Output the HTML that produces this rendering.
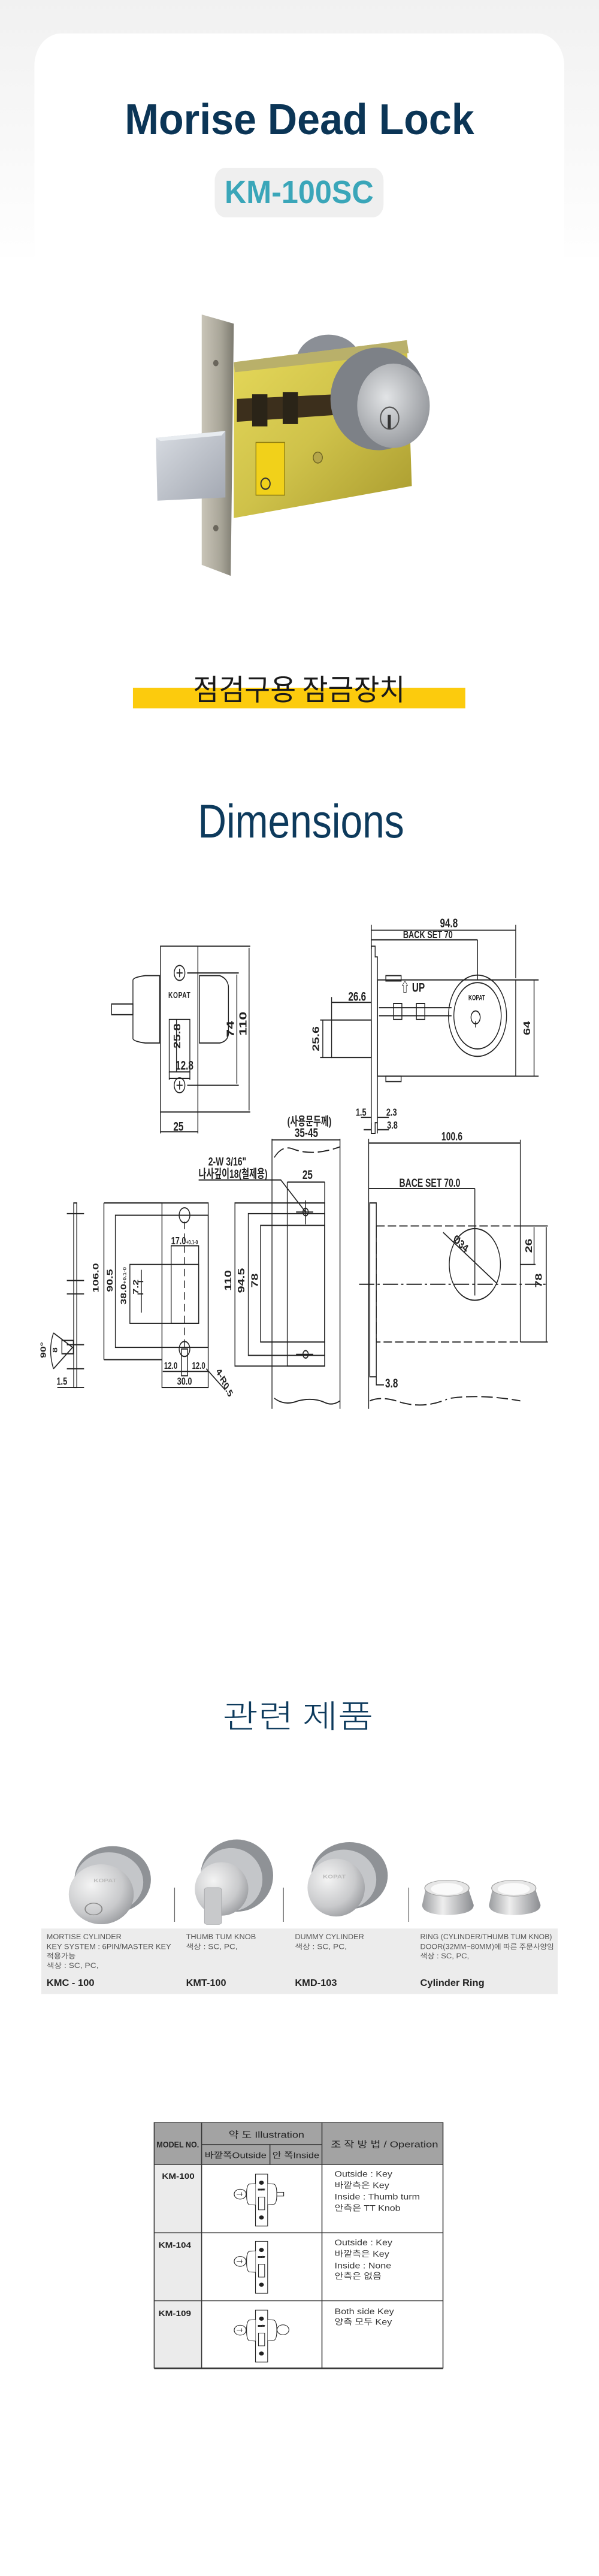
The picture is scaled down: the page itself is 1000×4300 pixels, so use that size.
<!DOCTYPE html>
<html><head><meta charset="utf-8">
<style>
html,body{margin:0;padding:0;background:#fff;}
body{width:1000px;height:4300px;position:relative;overflow:hidden;font-family:"Liberation Sans","Noto Sans CJK KR",sans-serif;}
svg{position:absolute;display:block;}
</style></head><body>

<!-- TOP SECTION -->
<svg style="left:0;top:0" width="1000" height="1200" viewBox="0 0 1568 1568" preserveAspectRatio="none">
<defs>
<linearGradient id="bg" x1="0" y1="0" x2="0" y2="1"><stop offset="0" stop-color="#f1f1f1"/><stop offset="1" stop-color="#ffffff"/></linearGradient>
<linearGradient id="plate" x1="0" y1="0" x2="1" y2="0"><stop offset="0" stop-color="#c9c5b8"/><stop offset="0.6" stop-color="#a8a598"/><stop offset="1" stop-color="#7d7a70"/></linearGradient>
<linearGradient id="body" x1="0" y1="0" x2="1" y2="1"><stop offset="0" stop-color="#e6d95a"/><stop offset="0.5" stop-color="#cfc24a"/><stop offset="1" stop-color="#a89a2e"/></linearGradient>
<linearGradient id="bolt" x1="0" y1="0" x2="1" y2="1"><stop offset="0" stop-color="#d8dce2"/><stop offset="1" stop-color="#a3a8b2"/></linearGradient>
<radialGradient id="cyl" cx="0.4" cy="0.4" r="0.7"><stop offset="0" stop-color="#e2e4e6"/><stop offset="1" stop-color="#8e9196"/></radialGradient>
</defs>
<rect x="0" y="0" width="1568" height="600" fill="url(#bg)"/>
<rect x="90" y="73" width="1387" height="560" rx="70" fill="#fff"/>
<rect x="0" y="560" width="1568" height="80" fill="#fff"/>
<text x="784" y="293" text-anchor="middle" font-size="94" font-weight="bold" fill="#0b3556" textLength="915" lengthAdjust="spacingAndGlyphs">Morise Dead Lock</text>
<rect x="562" y="366" width="442" height="108" rx="28" fill="#efefef"/>
<text x="783" y="443" text-anchor="middle" font-size="70" font-weight="bold" fill="#3aa6b9" textLength="390" lengthAdjust="spacingAndGlyphs">KM-100SC</text>

<ellipse cx="860" cy="790" rx="85" ry="60" fill="#8b8f96"/>
<polygon points="612,790 1065,742 1078,1060 612,1130" fill="url(#body)"/>
<polygon points="612,790 1065,742 1070,770 615,812" fill="#b9b06a"/>
<polygon points="528,686 612,706 604,1256 528,1232" fill="url(#plate)"/>
<circle cx="565" cy="792" r="7" fill="#6a665c"/><circle cx="565" cy="1152" r="7" fill="#6a665c"/>
<polygon points="620,870 880,860 880,905 620,920" fill="#3c2f1c"/>
<rect x="660" y="860" width="40" height="70" fill="#2a2418"/><rect x="740" y="855" width="40" height="70" fill="#2a2418"/>
<polygon points="408,955 590,940 590,1085 412,1092" fill="url(#bolt)"/>
<polygon points="408,955 590,940 580,950 420,962" fill="#e8ecf0"/>
<rect x="670" y="965" width="75" height="115" fill="#f1d11a" stroke="#8a7a10" stroke-width="2"/>
<circle cx="695" cy="1055" r="12" fill="none" stroke="#333" stroke-width="3"/>
<circle cx="832" cy="998" r="12" fill="#b5a64a" stroke="#6a6020" stroke-width="2"/>
<ellipse cx="990" cy="870" rx="125" ry="112" fill="#7d8187"/>
<ellipse cx="1030" cy="885" rx="95" ry="92" fill="url(#cyl)"/>
<circle cx="1020" cy="912" r="24" fill="none" stroke="#555" stroke-width="3"/>
<rect x="1015" y="905" width="8" height="30" fill="#333"/>

<rect x="348" y="1500" width="870" height="45" fill="#fccb0d"/>
<text x="783" y="1527" text-anchor="middle" font-size="64" fill="#1a1a1a" font-family="Noto Sans CJK KR, sans-serif" textLength="555" lengthAdjust="spacingAndGlyphs">점검구용 잠금장치</text>
</svg>

<!-- DIMENSIONS -->
<svg style="left:0;top:1200" width="1000" height="1400" viewBox="0 0 1568 1568" preserveAspectRatio="none" font-family="Liberation Sans, Noto Sans CJK KR, sans-serif">
<text x="788" y="222" text-anchor="middle" font-size="88" fill="#0d3a5c" textLength="540" lengthAdjust="spacingAndGlyphs">Dimensions</text>
<g fill="none" stroke="#222" stroke-width="2.2">
<rect x="420" y="425" width="98" height="310"/>
<path d="M348 488 Q350 483 380 480 L418 480 L418 606 L380 606 Q350 603 348 598 Z"/>
<path d="M522 480 L575 480 Q595 485 598 500 L598 590 Q595 603 575 606 L522 606 Z"/>
<rect x="292" y="533" width="56" height="20"/>
<circle cx="470" cy="475" r="14"/><circle cx="470" cy="685" r="14"/>
<path d="M462 475h16M470 467v16M462 685h16M470 677v16"/>
<rect x="443" y="562" width="54" height="98"/>
<path d="M462 562v98M443 660v15M497 660v15M443 672h54"/>
<path d="M490 475h135M490 685h135M620 478v204M518 425h137M518 735h137M652 428v304"/>
<path d="M420 735v40M518 735v40M420 772h98"/>
<path d="M972 425h10v20h6v310h-6v20h-10z"/>
<rect x="988" y="488" width="362" height="180"/>
<circle cx="1250" cy="555" r="76"/><circle cx="1250" cy="555" r="62"/>
<circle cx="1245" cy="558" r="12"/><path d="M1245 565v12"/>
<path d="M992 540h190M992 555h190"/>
<rect x="1030" y="532" width="22" height="30"/><rect x="1090" y="532" width="22" height="30"/>
<rect x="1010" y="480" width="40" height="10"/><rect x="1010" y="668" width="40" height="10"/>
<rect x="868" y="563" width="104" height="70"/>
<path d="M972 385v45M1350 385v100M972 395h378M1250 413v75M972 413h278"/>
<path d="M868 520v43M868 530h104M838 563h30M838 633h30M845 563v70"/>
<path d="M1350 488h60M1350 668h60M1398 488v180"/>
<path d="M945 745h27M988 745h30M972 768h-20M988 768h30M972 755v20M988 755v20"/>
<rect x="193" y="905" width="8" height="345"/>
<path d="M175 925h45M175 1050h45M175 1075h45M175 1170h45M175 1215h45M150 1250h70"/>
<path d="M140 1148 L190 1175 L140 1215"/>
<path d="M140 1148 Q125 1180 140 1215"/>
<rect x="162" y="1162" width="30" height="25"/>
<path d="M272 905h152M272 1198h152M272 905v293"/>
<rect x="302" y="928" width="243" height="247"/>
<rect x="424" y="905" width="121" height="345"/>
<rect x="340" y="1020" width="180" height="110"/>
<rect x="448" y="985" width="72" height="145"/>
<path d="M370 1030v80M360 1052h15M360 1075h15"/>
<circle cx="483" cy="928" r="14"/><circle cx="483" cy="1178" r="14"/>
<rect x="475" y="1178" width="16" height="50"/>
<path d="M483 940v240" stroke-dasharray="14 8"/>
<path d="M426 1220h118M426 1250h118"/>
<path d="M540 1215 L590 1255"/>
<path d="M712 785v505M890 785v505M712 787h178"/>
<path d="M718 820 Q740 795 770 805 Q800 812 830 810 Q860 808 890 800" stroke-dasharray="30 10"/>
<path d="M718 1270 Q745 1285 780 1275 Q820 1268 850 1278 Q870 1285 890 1275"/>
<rect x="615" y="905" width="235" height="305"/>
<rect x="650" y="925" width="200" height="265"/>
<rect x="682" y="947" width="168" height="218"/>
<rect x="752" y="905" width="98" height="305"/>
<path d="M752 866h98M752 866v40M850 866v40"/>
<circle cx="800" cy="922" r="7"/><circle cx="800" cy="1188" r="7"/>
<path d="M775 922h45M775 1188h45M800 900v45"/>
<path d="M520 862h215 L800 922"/>
<path d="M965 785v505M1362 787v160M965 793h397M965 878h278M1243 878v200"/>
<path d="M968 905h17v325h-17z"/>
<path d="M985 948h377v217h-377M1362 948v217" stroke-dasharray="22 8"/>
<path d="M985 948v217" stroke-dasharray="22 8"/>
<circle cx="1243" cy="1020" r="67"/>
<path d="M1160 960 L1300 1055"/>
<path d="M940 1057h490" stroke-dasharray="40 8 6 8"/>
<path d="M1362 948h72M1362 1165h72M1398 950v70M1362 1020h40M1430 950v215"/>
<path d="M968 1275 Q1000 1265 1050 1278 Q1110 1290 1170 1272" stroke-dasharray="30 10"/>
<path d="M1180 1270 Q1260 1262 1362 1275" stroke-dasharray="30 10"/>
<path d="M985 1230v15h20"/>
</g>
<g fill="#222" font-size="24" font-weight="bold">
<text x="470" y="522" text-anchor="middle" font-size="16" letter-spacing="1">KOPAT</text>
<text x="1248" y="526" text-anchor="middle" font-size="13">KOPAT</text>
<text x="467" y="770" text-anchor="middle">25</text>
<text x="483" y="656" text-anchor="middle">12.8</text>
<text transform="translate(472,593) rotate(-90)" text-anchor="middle">25.8</text>
<text transform="translate(612,580) rotate(-90)" text-anchor="middle" font-size="28">74</text>
<text transform="translate(645,570) rotate(-90)" text-anchor="middle" font-size="28">110</text>
<text x="1175" y="390" text-anchor="middle">94.8</text>
<text x="1120" y="410" text-anchor="middle" font-size="20">BACK SET 70</text>
<text x="1080" y="510" text-anchor="middle">⇧ UP</text>
<text x="935" y="527" text-anchor="middle">26.6</text>
<text transform="translate(835,598) rotate(-90)" text-anchor="middle">25.6</text>
<text transform="translate(1388,578) rotate(-90)" text-anchor="middle">64</text>
<text x="945" y="742" text-anchor="middle" font-size="20">1.5</text>
<text x="1025" y="742" text-anchor="middle" font-size="20">2.3</text>
<text x="1027" y="766" text-anchor="middle" font-size="20">3.8</text>
<text x="810" y="760" text-anchor="middle" font-size="22">(사용문두께)</text>
<text x="802" y="782" text-anchor="middle">35-45</text>
<text x="595" y="835" text-anchor="middle" font-size="22">2-W 3/16"</text>
<text x="610" y="858" text-anchor="middle" font-size="22">나사깊이18(철제용)</text>
<text x="805" y="860" text-anchor="middle">25</text>
<text x="1183" y="788" text-anchor="middle" font-size="22">100.6</text>
<text x="1125" y="875" text-anchor="middle" font-size="22">BACE SET 70.0</text>
<text transform="translate(1185,975) rotate(35)" font-size="22">Ø34</text>
<text transform="translate(1392,985) rotate(-90)" text-anchor="middle">26</text>
<text transform="translate(1418,1050) rotate(-90)" text-anchor="middle">78</text>
<text x="1025" y="1250" text-anchor="middle">3.8</text>
<text x="483" y="982" text-anchor="middle" font-size="20">17.0<tspan font-size="11">+0.1-0</tspan></text>
<text transform="translate(258,1045) rotate(-90)" text-anchor="middle" font-size="22">106.0</text>
<text transform="translate(295,1050) rotate(-90)" text-anchor="middle" font-size="22">90.5</text>
<text transform="translate(330,1060) rotate(-90)" text-anchor="middle" font-size="20">38.0<tspan font-size="11">+0.1-0</tspan></text>
<text transform="translate(362,1062) rotate(-90)" text-anchor="middle" font-size="20">7.2</text>
<text x="447" y="1215" text-anchor="middle" font-size="18">12.0</text>
<text x="520" y="1215" text-anchor="middle" font-size="18">12.0</text>
<text x="483" y="1245" text-anchor="middle" font-size="20">30.0</text>
<text transform="translate(565,1220) rotate(55)" font-size="20">4-R0.5</text>
<text transform="translate(120,1180) rotate(-90)" text-anchor="middle" font-size="20">90°</text>
<text transform="translate(150,1180) rotate(-90)" text-anchor="middle" font-size="18">8</text>
<text x="162" y="1245" text-anchor="middle" font-size="20">1.5</text>
<text transform="translate(605,1050) rotate(-90)" text-anchor="middle">110</text>
<text transform="translate(640,1050) rotate(-90)" text-anchor="middle">94.5</text>
<text transform="translate(675,1050) rotate(-90)" text-anchor="middle">78</text>
</g>
</svg>

<!-- RELATED PRODUCTS -->
<svg style="left:0;top:2700" width="1000" height="700" viewBox="0 0 1568 1568" preserveAspectRatio="none" font-family="Liberation Sans, Noto Sans CJK KR, sans-serif">
<defs>
<radialGradient id="met" cx="0.35" cy="0.35" r="0.8"><stop offset="0" stop-color="#f4f4f4"/><stop offset="0.6" stop-color="#c9cacc"/><stop offset="1" stop-color="#8c8e92"/></radialGradient>
<linearGradient id="ringg" x1="0" y1="0" x2="1" y2="0"><stop offset="0" stop-color="#9a9c9f"/><stop offset="0.4" stop-color="#eeeeee"/><stop offset="1" stop-color="#8a8c90"/></linearGradient>
</defs>
<text x="780" y="412" text-anchor="middle" font-size="120" fill="#0d3a5c" font-family="Noto Sans CJK KR, sans-serif" font-weight="300" textLength="395" lengthAdjust="spacingAndGlyphs">관련 제품</text>
<rect x="108" y="1163" width="1352" height="245" fill="#ececec"/>
<g stroke="#666" stroke-width="2"><path d="M457 1010v128M742 1010v128M1070 1010v128"/></g>
<ellipse cx="295" cy="980" rx="100" ry="125" fill="#8f9296"/>
<ellipse cx="285" cy="990" rx="90" ry="112" fill="#c4c6c9"/>
<ellipse cx="265" cy="1035" rx="85" ry="112" fill="url(#met)"/>
<text x="245" y="990" font-size="18" fill="#bbb" font-weight="bold">KOPAT</text>
<circle cx="245" cy="1090" r="22" fill="none" stroke="#888" stroke-width="3"/>
<ellipse cx="620" cy="965" rx="95" ry="135" fill="#8f9296"/>
<ellipse cx="605" cy="980" rx="82" ry="118" fill="#c4c6c9"/>
<ellipse cx="580" cy="1015" rx="70" ry="100" fill="url(#met)"/>
<rect x="535" y="1010" width="45" height="138" rx="8" fill="#c8c9cb" stroke="#9a9b9e"/>
<ellipse cx="915" cy="965" rx="100" ry="125" fill="#8f9296"/>
<ellipse cx="900" cy="980" rx="85" ry="112" fill="#c4c6c9"/>
<ellipse cx="880" cy="1010" rx="75" ry="108" fill="url(#met)"/>
<text x="845" y="975" font-size="18" fill="#bbb" font-weight="bold">KOPAT</text>
<path d="M1115 1010 L1225 1010 L1240 1075 Q1240 1110 1170 1113 Q1105 1110 1105 1075 Z" fill="url(#ringg)"/>
<ellipse cx="1170" cy="1012" rx="58" ry="30" fill="#e6e6e6" stroke="#999" stroke-width="2"/>
<ellipse cx="1170" cy="1015" rx="42" ry="22" fill="#fafafa"/>
<path d="M1290 1010 L1400 1010 L1415 1075 Q1415 1110 1345 1113 Q1280 1110 1280 1075 Z" fill="url(#ringg)"/>
<ellipse cx="1345" cy="1012" rx="58" ry="30" fill="#e6e6e6" stroke="#999" stroke-width="2"/>
<ellipse cx="1345" cy="1015" rx="42" ry="22" fill="#fafafa"/>
<g fill="#555" font-size="26" lengthAdjust="spacingAndGlyphs">
<text x="122" y="1203" textLength="196" lengthAdjust="spacingAndGlyphs">MORTISE CYLINDER</text>
<text x="122" y="1240" textLength="326" lengthAdjust="spacingAndGlyphs">KEY SYSTEM : 6PIN/MASTER KEY</text>
<text x="122" y="1275" textLength="76" lengthAdjust="spacingAndGlyphs">적용가능</text>
<text x="122" y="1310" textLength="136" lengthAdjust="spacingAndGlyphs">색상 : SC, PC,</text>
<text x="487" y="1203" textLength="183" lengthAdjust="spacingAndGlyphs">THUMB TUM KNOB</text>
<text x="487" y="1240" textLength="135" lengthAdjust="spacingAndGlyphs">색상 : SC, PC,</text>
<text x="772" y="1203" textLength="181" lengthAdjust="spacingAndGlyphs">DUMMY CYLINDER</text>
<text x="772" y="1240" textLength="136" lengthAdjust="spacingAndGlyphs">색상 : SC, PC,</text>
<text x="1100" y="1203" textLength="345" lengthAdjust="spacingAndGlyphs">RING (CYLINDER/THUMB TUM KNOB)</text>
<text x="1100" y="1240" textLength="350" lengthAdjust="spacingAndGlyphs">DOOR(32MM~80MM)에 따른 주문사양임</text>
<text x="1100" y="1275" textLength="128" lengthAdjust="spacingAndGlyphs">색상 : SC, PC,</text>
</g>
<g fill="#222" font-size="36" font-weight="bold">
<text x="122" y="1378" textLength="125" lengthAdjust="spacingAndGlyphs">KMC - 100</text>
<text x="487" y="1378" textLength="105" lengthAdjust="spacingAndGlyphs">KMT-100</text>
<text x="772" y="1378" textLength="110" lengthAdjust="spacingAndGlyphs">KMD-103</text>
<text x="1100" y="1378" textLength="168" lengthAdjust="spacingAndGlyphs">Cylinder Ring</text>
</g>
</svg>

<!-- TABLE -->
<svg style="left:200px;top:3500px" width="600" height="500" viewBox="0 0 1568 1568" preserveAspectRatio="none" font-family="Liberation Sans, Noto Sans CJK KR, sans-serif">
<defs>
<g id="lk">
<rect x="592" y="0" width="53" height="272" fill="#fff" stroke="#222" stroke-width="3"/>
<circle cx="618" cy="45" r="9" fill="#222"/><circle cx="618" cy="227" r="9" fill="#222"/>
<rect x="605" y="120" width="27" height="67" fill="#fff" stroke="#222" stroke-width="3"/>
<text x="618" y="85" font-size="9" text-anchor="middle" fill="#444">KOPAT</text>
<path d="M592 50 L565 52 Q553 58 553 105 Q553 155 565 160 L592 162" fill="#fff" stroke="#222" stroke-width="3"/>
<circle cx="525" cy="105" r="26" fill="#fff" stroke="#222" stroke-width="3"/>
<path d="M510 105h25M530 95v20" stroke="#222" stroke-width="3"/>
</g>
</defs>
<rect x="150" y="135" width="1260" height="220" fill="#a3a3a3"/>
<rect x="150" y="355" width="207" height="1065" fill="#ebebeb"/>
<g stroke="#333" stroke-width="4" fill="none">
<rect x="150" y="135" width="1260" height="1285"/>
<path d="M357 135v1285M882 135v1285M357 250h525M655 250v105M150 355h1260M150 712h1260M150 1068h1260"/>
<path d="M150 1422h1260" stroke-width="8"/>
</g>
<g fill="#222">
<text x="253" y="265" text-anchor="middle" font-size="42" font-weight="bold" textLength="185" lengthAdjust="spacingAndGlyphs">MODEL NO.</text>
<text x="640" y="215" text-anchor="middle" font-size="46" textLength="330" lengthAdjust="spacingAndGlyphs">약 도 Illustration</text>
<text x="505" y="322" text-anchor="middle" font-size="42" textLength="270" lengthAdjust="spacingAndGlyphs">바깥쪽Outside</text>
<text x="768" y="322" text-anchor="middle" font-size="42" textLength="205" lengthAdjust="spacingAndGlyphs">안 쪽Inside</text>
<text x="1155" y="265" text-anchor="middle" font-size="46" textLength="468" lengthAdjust="spacingAndGlyphs">조 작 방 법 / Operation</text>
<text x="255" y="430" text-anchor="middle" font-size="40" font-weight="bold">KM-100</text>
<text x="240" y="790" text-anchor="middle" font-size="40" font-weight="bold">KM-104</text>
<text x="240" y="1148" text-anchor="middle" font-size="40" font-weight="bold">KM-109</text>
</g>
<g fill="#333" font-size="42">
<text x="937" y="418">Outside : Key</text>
<text x="937" y="478">바깥측은 Key</text>
<text x="937" y="538">Inside : Thumb turm</text>
<text x="937" y="598">안측은 TT Knob</text>
<text x="937" y="778">Outside : Key</text>
<text x="937" y="838">바깥측은 Key</text>
<text x="937" y="898">Inside : None</text>
<text x="937" y="953">안측은 없음</text>
<text x="937" y="1138">Both side Key</text>
<text x="937" y="1193">양측 모두 Key</text>
</g>
<g stroke="#222" stroke-width="3" fill="#fff">
<use href="#lk" y="405"/>
<path d="M645 455 L672 457 Q685 462 685 510 Q685 560 672 563 L645 565"/>
<rect x="685" y="500" width="30" height="20"/>
<use href="#lk" y="757"/>
<use href="#lk" y="1117"/>
<path d="M645 1167 L672 1169 Q685 1175 685 1222 Q685 1272 672 1275 L645 1277"/>
<circle cx="712" cy="1220" r="26"/>
</g>
</svg>

</body></html>
